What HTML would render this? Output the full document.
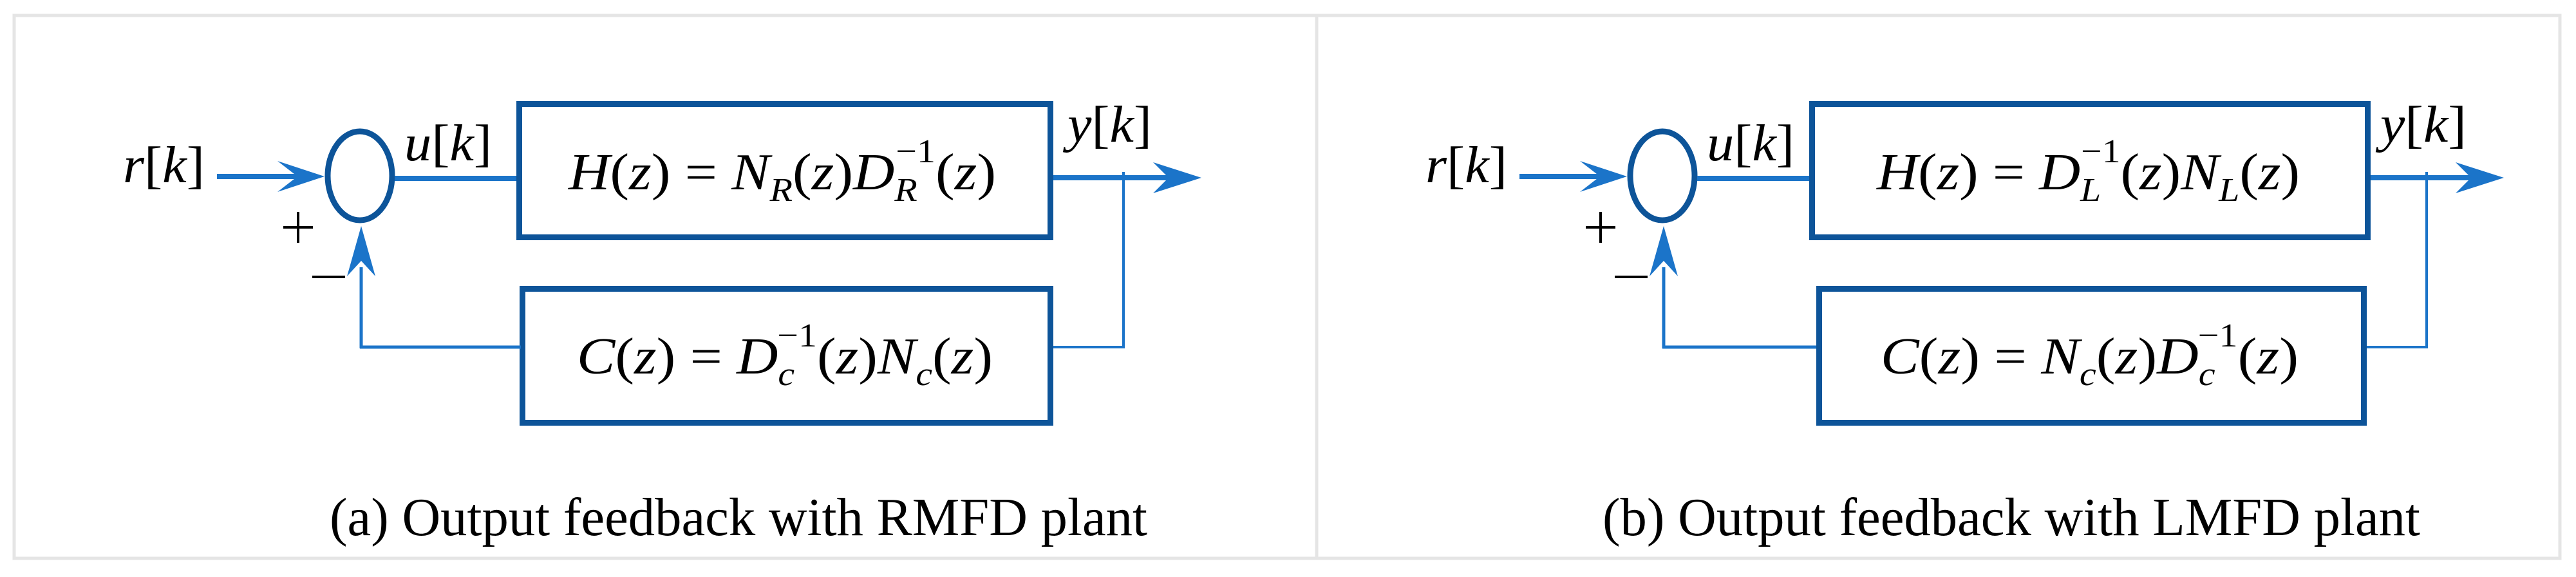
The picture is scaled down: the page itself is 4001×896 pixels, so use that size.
<!DOCTYPE html>
<html><head><meta charset="utf-8"><style>
html,body{margin:0;padding:0;background:#fff;width:4001px;height:896px;overflow:hidden}
svg{display:block}
.m{font-family:"Liberation Serif",serif;font-style:italic;font-size:80px;fill:#000}
.u{font-style:normal}
.s{font-size:52px}
.cap{font-family:"Liberation Serif",serif;font-size:84px;fill:#000}
</style></head><body>
<svg width="4001" height="896" viewBox="0 0 4001 896" xmlns="http://www.w3.org/2000/svg">
<rect x="0" y="0" width="4001" height="896" fill="#fff"/>
<rect x="22" y="24" width="3954" height="843" fill="none" stroke="#e5e5e5" stroke-width="5"/>
<line x1="2045" y1="24" x2="2045" y2="867" stroke="#e5e5e5" stroke-width="5"/>

<!-- LEFT PANEL -->
<g>
<text class="m" x="191" y="283" textLength="127" lengthAdjust="spacingAndGlyphs">r<tspan class="u">[</tspan>k<tspan class="u">]</tspan></text>
<line x1="337" y1="274" x2="480" y2="274" stroke="#1b74c9" stroke-width="8"/>
<polygon points="504,274 431,250 462,274 431,298" fill="#1b74c9"/>
<ellipse cx="559" cy="273" rx="50" ry="69" fill="none" stroke="#0d5499" stroke-width="9"/>
<line x1="613" y1="277" x2="802" y2="277" stroke="#1b74c9" stroke-width="8"/>
<text class="m" x="628" y="249" textLength="136" lengthAdjust="spacingAndGlyphs">u<tspan class="u">[</tspan>k<tspan class="u">]</tspan></text>
<rect x="806.5" y="161.5" width="825" height="207" fill="none" stroke="#0d5499" stroke-width="9"/>
<text class="m" x="883" y="294" textLength="664" lengthAdjust="spacingAndGlyphs">H<tspan class="u">(</tspan>z<tspan class="u">) = </tspan>N<tspan class="s" dy="18">R</tspan><tspan class="u" dy="-18">(</tspan>z<tspan class="u">)</tspan>D<tspan class="s" dy="18">R</tspan><tspan class="s u" dx="-30" dy="-60">−1</tspan><tspan class="u" dy="42">(</tspan>z<tspan class="u">)</tspan></text>
<text class="m" x="1658" y="220" textLength="131" lengthAdjust="spacingAndGlyphs">y<tspan class="u">[</tspan>k<tspan class="u">]</tspan></text>
<line x1="1636" y1="276" x2="1850" y2="276" stroke="#1b74c9" stroke-width="8"/>
<polygon points="1866,276 1791,252 1815,276 1791,300" fill="#1b74c9"/>
<line x1="1745" y1="267" x2="1745" y2="541" stroke="#1b74c9" stroke-width="4"/>
<line x1="1636" y1="539" x2="1747" y2="539" stroke="#1b74c9" stroke-width="4"/>
<rect x="811.5" y="448.5" width="820" height="208" fill="none" stroke="#0d5499" stroke-width="9"/>
<text class="m" x="896" y="580" textLength="646" lengthAdjust="spacingAndGlyphs">C<tspan class="u">(</tspan>z<tspan class="u">) = </tspan>D<tspan class="s" dy="18">c</tspan><tspan class="s u" dx="-24" dy="-60">−1</tspan><tspan class="u" dy="42">(</tspan>z<tspan class="u">)</tspan>N<tspan class="s" dy="18">c</tspan><tspan class="u" dy="-18">(</tspan>z<tspan class="u">)</tspan></text>
<line x1="561" y1="541" x2="561" y2="415" stroke="#1b74c9" stroke-width="5"/>
<line x1="559" y1="539" x2="809" y2="539" stroke="#1b74c9" stroke-width="5"/>
<polygon points="561,351 539,429 561,405 583,429" fill="#1b74c9"/>
<line x1="440" y1="353" x2="486" y2="353" stroke="#000" stroke-width="4"/>
<line x1="463" y1="329" x2="463" y2="377" stroke="#000" stroke-width="4"/>
<line x1="485" y1="430" x2="536" y2="430" stroke="#000" stroke-width="4"/>
<text class="cap" x="512" y="831" textLength="1270" lengthAdjust="spacingAndGlyphs">(a) Output feedback with RMFD plant</text>
</g>

<!-- RIGHT PANEL -->
<g>
<text class="m" x="2214" y="283" textLength="127" lengthAdjust="spacingAndGlyphs">r<tspan class="u">[</tspan>k<tspan class="u">]</tspan></text>
<line x1="2360" y1="274" x2="2503" y2="274" stroke="#1b74c9" stroke-width="8"/>
<polygon points="2527,274 2454,250 2485,274 2454,298" fill="#1b74c9"/>
<ellipse cx="2582" cy="273" rx="50" ry="69" fill="none" stroke="#0d5499" stroke-width="9"/>
<line x1="2636" y1="277" x2="2810" y2="277" stroke="#1b74c9" stroke-width="8"/>
<text class="m" x="2651" y="249" textLength="136" lengthAdjust="spacingAndGlyphs">u<tspan class="u">[</tspan>k<tspan class="u">]</tspan></text>
<rect x="2814.5" y="161.5" width="863" height="207" fill="none" stroke="#0d5499" stroke-width="9"/>
<text class="m" x="2915" y="294" textLength="657" lengthAdjust="spacingAndGlyphs">H<tspan class="u">(</tspan>z<tspan class="u">) = </tspan>D<tspan class="s" dy="18">L</tspan><tspan class="s u" dx="-28" dy="-60">−1</tspan><tspan class="u" dy="42">(</tspan>z<tspan class="u">)</tspan>N<tspan class="s" dy="18">L</tspan><tspan class="u" dy="-18">(</tspan>z<tspan class="u">)</tspan></text>
<text class="m" x="3697" y="220" textLength="134" lengthAdjust="spacingAndGlyphs">y<tspan class="u">[</tspan>k<tspan class="u">]</tspan></text>
<line x1="3682" y1="276" x2="3873" y2="276" stroke="#1b74c9" stroke-width="8"/>
<polygon points="3889,276 3814,252 3838,276 3814,300" fill="#1b74c9"/>
<line x1="3769" y1="267" x2="3769" y2="541" stroke="#1b74c9" stroke-width="4"/>
<line x1="3676" y1="539" x2="3771" y2="539" stroke="#1b74c9" stroke-width="4"/>
<rect x="2825.5" y="448.5" width="846" height="208" fill="none" stroke="#0d5499" stroke-width="9"/>
<text class="m" x="2921" y="580" textLength="649" lengthAdjust="spacingAndGlyphs">C<tspan class="u">(</tspan>z<tspan class="u">) = </tspan>N<tspan class="s" dy="18">c</tspan><tspan class="u" dy="-18">(</tspan>z<tspan class="u">)</tspan>D<tspan class="s" dy="18">c</tspan><tspan class="s u" dx="-24" dy="-60">−1</tspan><tspan class="u" dy="42">(</tspan>z<tspan class="u">)</tspan></text>
<line x1="2584" y1="541" x2="2584" y2="415" stroke="#1b74c9" stroke-width="5"/>
<line x1="2582" y1="539" x2="2821" y2="539" stroke="#1b74c9" stroke-width="5"/>
<polygon points="2584,351 2562,429 2584,405 2606,429" fill="#1b74c9"/>
<line x1="2463" y1="353" x2="2509" y2="353" stroke="#000" stroke-width="4"/>
<line x1="2486" y1="329" x2="2486" y2="377" stroke="#000" stroke-width="4"/>
<line x1="2508" y1="430" x2="2559" y2="430" stroke="#000" stroke-width="4"/>
<text class="cap" x="2489" y="831" textLength="1270" lengthAdjust="spacingAndGlyphs">(b) Output feedback with LMFD plant</text>
</g>
</svg>
</body></html>
